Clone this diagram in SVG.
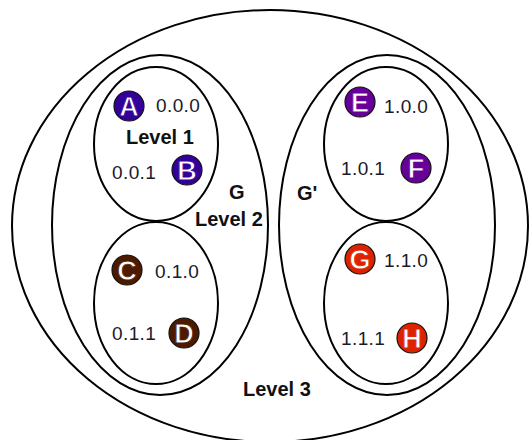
<svg xmlns="http://www.w3.org/2000/svg" width="529" height="440" viewBox="0 0 529 440">
  <style>
    .ring { fill: none; stroke: #000; stroke-width: 2; }
    .dot { stroke: #111; stroke-width: 1.2; }
    .letter { font-family: "Liberation Sans", Arial, sans-serif; font-weight: bold; font-size: 27px; fill: #fff; text-anchor: middle; stroke-width: 0.8; }
    .addr { font-family: "Liberation Sans", Arial, sans-serif; font-size: 19px; letter-spacing: 0.4px; fill: #1a1a2a; }
    .lvl { font-family: "Liberation Sans", Arial, sans-serif; font-weight: bold; font-size: 20px; fill: #111; }
    .blue { fill: #330099; }
    .purple { fill: #660099; }
    .brown { fill: #4d1a00; }
    .red { fill: #dd2200; }
  </style>
  <rect width="529" height="440" fill="#fff"/>

  <!-- grouping rings -->
  <g id="connectors">
    <ellipse id="level3" class="ring" cx="270" cy="226" rx="258" ry="216"/>
    <ellipse id="G" class="ring" cx="160" cy="225" rx="108" ry="170"/>
    <ellipse id="Gprime" class="ring" cx="387" cy="225" rx="108" ry="170"/>
    <ellipse id="level1-00" class="ring" cx="156" cy="144" rx="62" ry="77"/>
    <ellipse id="level1-01" class="ring" cx="156" cy="303" rx="62" ry="81"/>
    <ellipse id="level1-10" class="ring" cx="386" cy="144" rx="62" ry="77"/>
    <ellipse id="level1-11" class="ring" cx="386" cy="303" rx="62" ry="81"/>
  </g>

  <!-- level labels -->
  <g id="labels">
    <text class="lvl" x="126" y="144">Level 1</text>
    <text class="lvl" x="229" y="199">G</text>
    <text class="lvl" x="195" y="226">Level 2</text>
    <text class="lvl" x="297" y="200">G'</text>
    <text class="lvl" x="243" y="396">Level 3</text>
  </g>

  <g id="node-A">
    <circle class="dot blue" cx="129" cy="106" r="15"/>
    <text class="letter" x="129" y="115.5" stroke="#330099">A</text>
    <text class="addr" x="156" y="112">0.0.0</text>
  </g>
  <g id="node-B">
    <circle class="dot blue" cx="187" cy="170" r="15"/>
    <text class="letter" x="187" y="179.5" stroke="#330099">B</text>
    <text class="addr" x="112" y="179">0.0.1</text>
  </g>
  <g id="node-C">
    <circle class="dot brown" cx="127" cy="270" r="15"/>
    <text class="letter" x="127" y="279.5" stroke="#4d1a00">C</text>
    <text class="addr" x="155" y="278">0.1.0</text>
  </g>
  <g id="node-D">
    <circle class="dot brown" cx="184" cy="333" r="15"/>
    <text class="letter" x="184" y="342.5" stroke="#4d1a00">D</text>
    <text class="addr" x="112" y="340">0.1.1</text>
  </g>
  <g id="node-E">
    <circle class="dot purple" cx="360" cy="102" r="15"/>
    <text class="letter" x="360" y="111.5" stroke="#660099">E</text>
    <text class="addr" x="384" y="113">1.0.0</text>
  </g>
  <g id="node-F">
    <circle class="dot purple" cx="416" cy="168" r="15"/>
    <text class="letter" x="416" y="177.5" stroke="#660099">F</text>
    <text class="addr" x="341" y="175">1.0.1</text>
  </g>
  <g id="node-G">
    <circle class="dot red" cx="360" cy="259" r="15"/>
    <text class="letter" x="360" y="268.5" stroke="#dd2200">G</text>
    <text class="addr" x="384" y="267">1.1.0</text>
  </g>
  <g id="node-H">
    <circle class="dot red" cx="412" cy="338" r="15"/>
    <text class="letter" x="412" y="347.5" stroke="#dd2200">H</text>
    <text class="addr" x="341" y="345">1.1.1</text>
  </g>
</svg>
